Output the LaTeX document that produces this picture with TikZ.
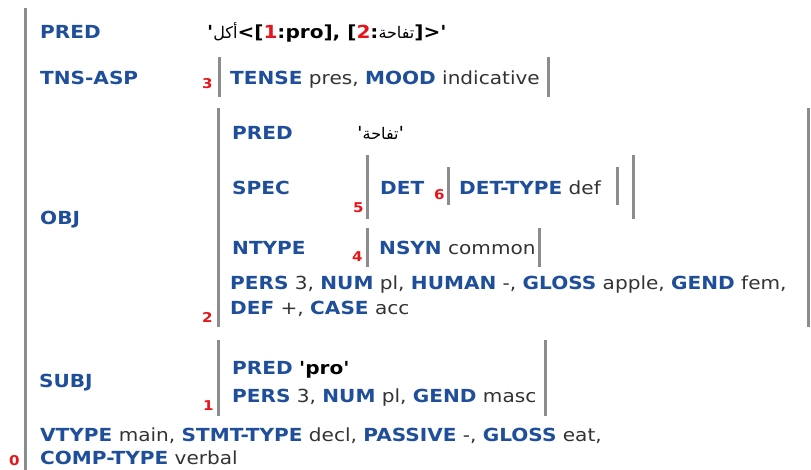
\documentclass[tikz,border=0pt]{standalone}
\usepackage{fontspec}
\newfontfamily\fsfont{DejaVu Sans}[FakeStretch=1.115]
\newfontfamily\arabicfont[Script=Arabic]{DejaVu Sans}
\TeXXeTstate=1
\definecolor{fsblue}{HTML}{1F4E9A}
\definecolor{fsval}{HTML}{333333}
\definecolor{fsbar}{HTML}{8C8C8C}
\definecolor{fsidx}{HTML}{E8141B}
\newcommand\fsattr[1]{\textcolor{fsblue}{\bfseries #1}}
\newcommand\fsar[1]{{\arabicfont\mdseries\fontsize{16}{24}\selectfont\beginR #1\endR}}
\newcommand\fsred[1]{\textcolor{fsidx}{#1}}
\begin{document}
\begin{tikzpicture}[x=1pt,y=-1pt,
  every node/.style={inner sep=0pt,anchor=base west,
    font=\fsfont\fontsize{18}{24}\selectfont,text=fsval},
  lbl/.style={font=\fsfont\fontsize{18}{24}\selectfont\bfseries,text=fsblue},
  predval/.style={font=\fsfont\fontsize{18}{24}\selectfont\bfseries,text=black},
  idx/.style={font=\fsfont\fontsize{13.5}{13.5}\selectfont\bfseries,text=fsidx},
  bar/.style={draw=fsbar,line width=3pt}]
\fill[white] (0,0) rectangle (811,470);
\useasboundingbox (0,0) rectangle (811,470);

% outer f-structure (0)
\draw[bar] (25,8) -- (25,470);
\node[idx] (i0) at (9,465) {0};
\node[lbl] (predL) at (40,39) {PRED};
\node[predval] (predV) at (207,39) {'\fsar{أكل}<[\fsred{1}:pro], [\fsred{2}:\fsar{تفاحة}]>'};

% TNS-ASP (3)
\node[lbl] (tnsL) at (40,85) {TNS-ASP};
\node[idx] (i3) at (202,89) {3};
\draw[bar] (219,57) -- (219,97);
\node (tnsV) at (230,85) {\fsattr{TENSE} pres, \fsattr{MOOD} indicative};
\draw[bar] (548,57) -- (548,97);

% OBJ (2)
\node[lbl] (objL) at (40,225) {OBJ};
\node[idx] (i2) at (202,322) {2};
\draw[bar] (218,108) -- (218,327);
\draw[bar] (808,108) -- (808,327);
\node[lbl] (opredL) at (232,140) {PRED};
\node[text=black] (opredV) at (357,140) {'\fsar{تفاحة}'};
\node[lbl] (specL) at (232,195) {SPEC};
\node[idx] (i5) at (353,213) {5};
\draw[bar] (367,155) -- (367,219);
\node[lbl] (detL) at (380,195) {DET};
\node[idx] (i6) at (434,200) {6};
\draw[bar] (448,167) -- (448,205);
\node (detV) at (459,195) {\fsattr{DET-TYPE} def};
\draw[bar] (617,167) -- (617,205);
\draw[bar] (633,155) -- (633,219);
\node[lbl] (ntypeL) at (232,255) {NTYPE};
\node[idx] (i4) at (352,262) {4};
\draw[bar] (367,228) -- (367,267);
\node (ntypeV) at (379,255) {\fsattr{NSYN} common};
\draw[bar] (539,228) -- (539,267);
\node (objA) at (230,290) {\fsattr{PERS} 3, \fsattr{NUM} pl, \fsattr{HUMAN} -, \fsattr{GLOSS} apple, \fsattr{GEND} fem,};
\node (objB) at (230,315) {\fsattr{DEF} +, \fsattr{CASE} acc};

% SUBJ (1)
\node[lbl] (subjL) at (39,387) {SUBJ};
\node[idx] (i1) at (203,410) {1};
\draw[bar] (218,340) -- (218,416);
\node[lbl] (spredL) at (232,374) {PRED};
\node[predval] (spredV) at (299,374) {'pro'};
\node (spers) at (232,402) {\fsattr{PERS} 3, \fsattr{NUM} pl, \fsattr{GEND} masc};
\draw[bar] (545,340) -- (545,416);

% remaining atomic features of 0
\node (vt) at (40,441) {\fsattr{VTYPE} main, \fsattr{STMT-TYPE} decl, \fsattr{PASSIVE} -, \fsattr{GLOSS} eat,};
\node (ct) at (40,464) {\fsattr{COMP-TYPE} verbal};
\end{tikzpicture}
\end{document}
